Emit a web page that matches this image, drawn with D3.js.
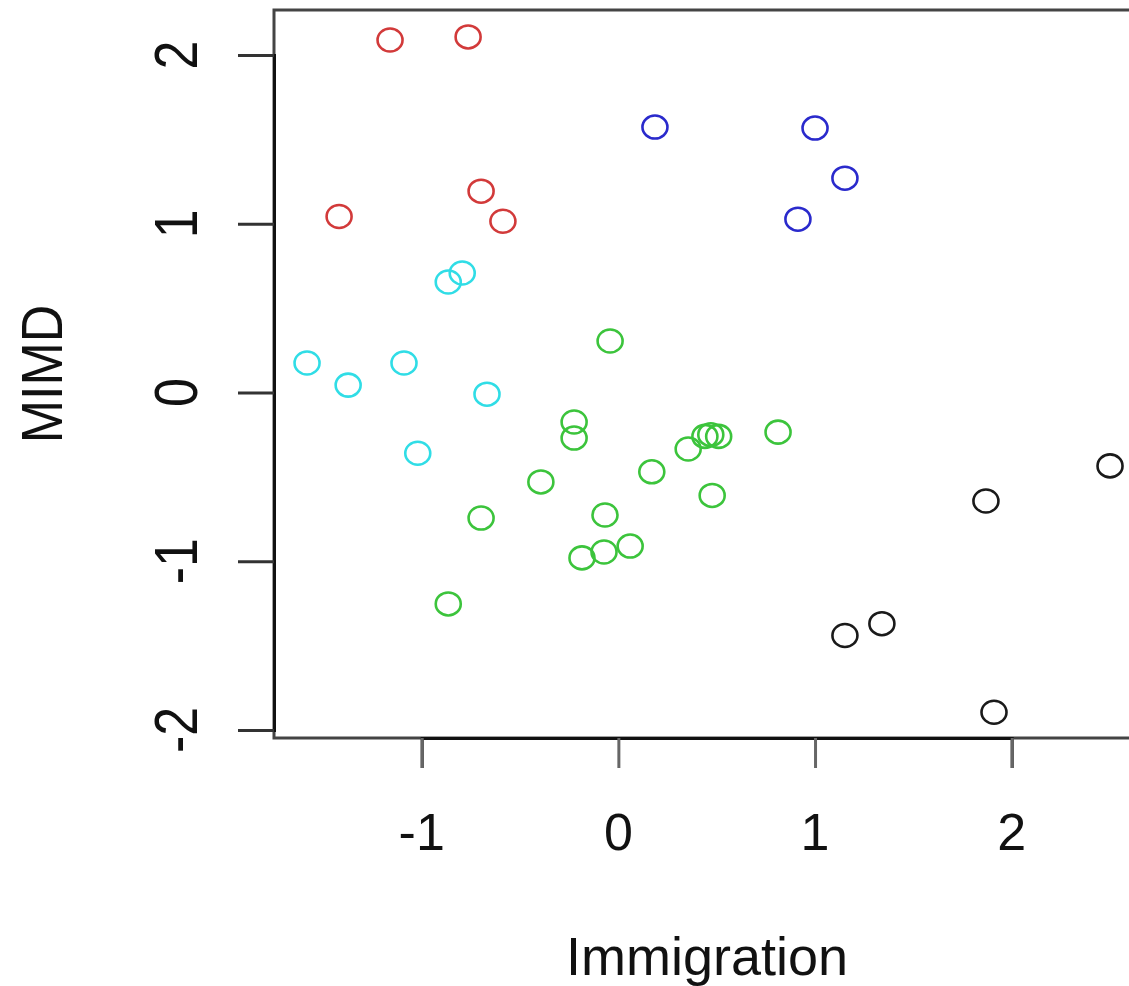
<!DOCTYPE html>
<html>
<head>
<meta charset="utf-8">
<script src="https://cdn.jsdelivr.net/npm/d3@7"></script>
<style>
  html, body { margin: 0; padding: 0; background: #fff; }
  svg { display: block; }
  text { font-family: "Liberation Sans", Arial, Helvetica, sans-serif; fill: #111; }
</style>
</head>
<body>
<svg id="chart" width="1129" height="986"></svg>
<script>
// ---- data ----
const groups = ["black", "red", "green", "blue", "cyan"];
const groupColors = ["#1a1a1a", "#d23a3a", "#3cc43c", "#2a2acc", "#30dde6"];

const redX   = [-1.161, -0.764, -1.42, -0.698, -0.587];
const redY   = [2.089, 2.107, 1.043, 1.193, 1.015];

const blueX  = [0.186, 1.0, 1.152, 0.913];
const blueY  = [1.573, 1.567, 1.27, 1.027];

const cyanX  = [-1.583, -1.374, -1.09, -0.668, -1.02, -0.865, -0.794];
const cyanY  = [0.175, 0.044, 0.175, -0.01, -0.36, 0.655, 0.708];

const greenX = [-0.042, -0.225, -0.225, -0.394, 0.17, 0.355, 0.44, 0.47, 0.51, 0.812, 0.477, -0.068, -0.185, -0.073, 0.06, -0.698, -0.865];
const greenY = [0.305, -0.175, -0.27, -0.53, -0.47, -0.335, -0.26, -0.25, -0.26, -0.235, -0.61, -0.726, -0.98, -0.945, -0.91, -0.744, -1.253];

const blackX = [2.5, 1.869, 1.152, 1.34, 1.91];
const blackY = [-0.435, -0.643, -1.44, -1.37, -1.895];

const xTicks = [-1, 0, 1, 2];
const yTicks = [-2, -1, 0, 1, 2];
const xTitle = "Immigration";
const yTitle = "MIMD";

// ---- build point table ----
const series = [
  {g: "black", xs: blackX, ys: blackY},
  {g: "red", xs: redX, ys: redY},
  {g: "green", xs: greenX, ys: greenY},
  {g: "blue", xs: blueX, ys: blueY},
  {g: "cyan", xs: cyanX, ys: cyanY}
];
const points = [];
series.forEach(s => s.xs.forEach((v, i) => points.push({g: s.g, x: v, y: s.ys[i]})));

// ---- layout ----
const plot = {left: 274, top: 10, right: 1145, bottom: 738};

const x = d3.scaleLinear().domain([-1, 2]).range([421.7, 1011.7]);
const y = d3.scaleLinear().domain([-2, 2]).range([730, 55]);
const color = d3.scaleOrdinal().domain(groups).range(groupColors);

const svg = d3.select("#chart");

// box
svg.append("rect")
  .attr("x", plot.left).attr("y", plot.top)
  .attr("width", plot.right - plot.left).attr("height", plot.bottom - plot.top)
  .attr("fill", "none").attr("stroke", "#444").attr("stroke-width", 3);

// x axis
const xAxis = svg.append("g")
  .attr("transform", `translate(0,${plot.bottom})`)
  .call(d3.axisBottom(x).tickValues(xTicks).tickSize(30).tickPadding(0).tickFormat(d3.format("d")));
xAxis.select(".domain").attr("stroke", "#111").attr("stroke-width", 3);
xAxis.selectAll(".tick line").attr("stroke", "#666").attr("stroke-width", 3);
xAxis.selectAll(".tick text").remove();
svg.append("g").selectAll("text")
  .data(xTicks).join("text")
  .attr("x", d => x(d)).attr("y", 850)
  .attr("text-anchor", "middle")
  .attr("font-size", 52)
  .text(d => d3.format("d")(d).replace("−", "-"));

// y axis
const yAxis = svg.append("g")
  .attr("transform", `translate(${plot.left},0)`)
  .call(d3.axisLeft(y).tickValues(yTicks).tickSize(36).tickFormat(d3.format("d")));
yAxis.select(".domain").attr("stroke", "#111").attr("stroke-width", 3);
yAxis.selectAll(".tick line").attr("stroke", "#333").attr("stroke-width", 3);
yAxis.selectAll(".tick text").remove();
svg.append("g").selectAll("text")
  .data(yTicks).join("text")
  .attr("transform", d => `translate(197,${y(d)}) scale(1.18,1) rotate(-90)`)
  .attr("text-anchor", "middle")
  .attr("font-size", 52)
  .text(d => d3.format("d")(d).replace("−", "-"));

// axis titles
svg.append("text")
  .attr("x", (plot.left + 1140) / 2).attr("y", 975)
  .attr("text-anchor", "middle")
  .attr("font-size", 54)
  .text(xTitle);

svg.append("text")
  .attr("transform", `translate(62,${(plot.top + plot.bottom) / 2}) scale(1.12,1) rotate(-90)`)
  .attr("text-anchor", "middle")
  .attr("font-size", 52)
  .text(yTitle);

// points
svg.append("g").selectAll("ellipse")
  .data(points).join("ellipse")
  .attr("cx", d => x(d.x)).attr("cy", d => y(d.y))
  .attr("rx", 12.5).attr("ry", 11.5)
  .attr("fill", "none")
  .attr("stroke", d => color(d.g))
  .attr("stroke-width", 2.6);
</script>
</body>
</html>
